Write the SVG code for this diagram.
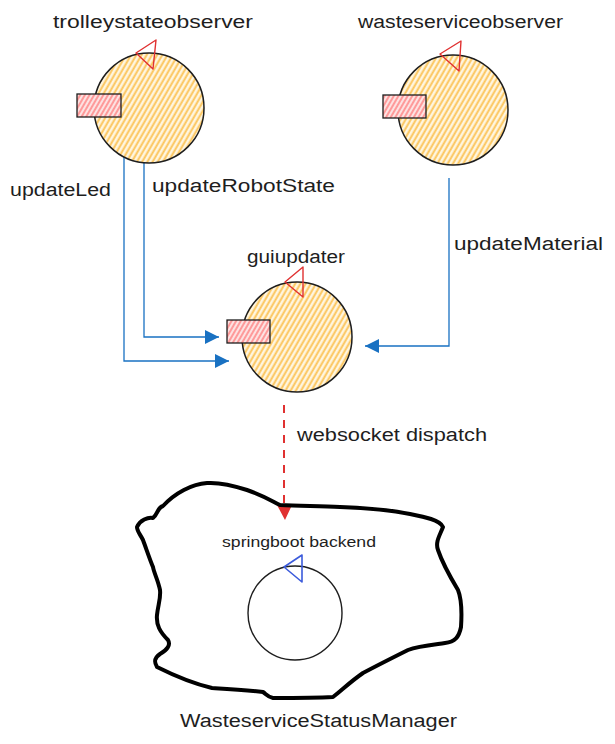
<svg xmlns="http://www.w3.org/2000/svg" width="615" height="744" viewBox="0 0 615 744">
<defs>
<style>
.lbl{font-family:"Liberation Sans","DejaVu Sans",sans-serif;fill:#1e1e1e}
.t18{font-size:18px}
.t14{font-size:14px}
.actor{stroke:#1e1e1e;stroke-width:1.5;fill:url(#hOrange)}
.inbox{stroke:#1e1e1e;stroke-width:1.3;fill:url(#hRed)}
.tri{fill:none;stroke:#e03131;stroke-width:1.4;stroke-linejoin:round}
.wire{fill:none;stroke:#1971c2;stroke-width:1.3}
</style>
<pattern id="hOrange" patternUnits="userSpaceOnUse" width="4.5" height="10" patternTransform="rotate(30)">
<rect width="4.5" height="10" fill="#fff6e0"/>
<line x1="1.5" y1="0" x2="1.5" y2="10" stroke="#fcc45a" stroke-width="1.9"/>
</pattern>
<pattern id="hRed" patternUnits="userSpaceOnUse" width="4" height="10" patternTransform="rotate(30)">
<rect width="4" height="10" fill="#fde2e2"/>
<line x1="1" y1="0" x2="1" y2="10" stroke="#ff7b7b" stroke-width="1.4"/>
</pattern>
<marker id="ab" viewBox="0 0 10 10" refX="10" refY="5" markerWidth="17" markerHeight="14" markerUnits="userSpaceOnUse" orient="auto">
<path d="M0,0 L10,5 L0,10 Z" fill="#1971c2"/>
</marker>
</defs>
<rect width="615" height="744" fill="#fff"/>

<g id="connectors">
<path class="wire" d="M124,155 L124,361 L229,361" marker-end="url(#ab)"/>
<path class="wire" d="M144,155 L144,337 L219,337" marker-end="url(#ab)"/>
<path class="wire" d="M449,178 L449,346 L365,346" marker-end="url(#ab)"/>
<path d="M284,405 L284,506" fill="none" stroke="#e03131" stroke-width="2" stroke-dasharray="8 7"/>
<polygon points="277,505 292,505 285,520" fill="#e03131"/>
<text class="lbl t18" x="10" y="196" textLength="101" lengthAdjust="spacingAndGlyphs">updateLed</text>
<text class="lbl t18" x="152" y="192" textLength="183" lengthAdjust="spacingAndGlyphs">updateRobotState</text>
<text class="lbl t18" x="454" y="250" textLength="149" lengthAdjust="spacingAndGlyphs">updateMaterial</text>
<text class="lbl t18" x="297" y="441" textLength="190" lengthAdjust="spacingAndGlyphs">websocket dispatch</text>
</g>

<g id="trolleystateobserver">
<text class="lbl t18" x="53" y="28" textLength="200" lengthAdjust="spacingAndGlyphs">trolleystateobserver</text>
<circle class="actor" cx="149" cy="108" r="55"/>
<rect class="inbox" x="77" y="94" width="44" height="23"/>
<polygon class="tri" points="136,53 156,40 153,69"/>
</g>

<g id="wasteserviceobserver">
<text class="lbl t18" x="358" y="28" textLength="205" lengthAdjust="spacingAndGlyphs">wasteserviceobserver</text>
<circle class="actor" cx="453" cy="110" r="55"/>
<rect class="inbox" x="383" y="95" width="43" height="23"/>
<polygon class="tri" points="440,54 461,41 459,71"/>
</g>

<g id="guiupdater">
<text class="lbl t18" x="247" y="263" textLength="98" lengthAdjust="spacingAndGlyphs">guiupdater</text>
<circle class="actor" cx="297" cy="337" r="55"/>
<rect class="inbox" x="227" y="320" width="43" height="23"/>
<polygon class="tri" points="285,282 303,267 303,297"/>
</g>

<g id="WasteserviceStatusManager">
<path d="M137,527 C140,520 148,517 153,518 C158,514 157,508 163,506 C175,493 192,484 207,483 C222,482 235,486 247,490 C262,495 270,500 280,505 C300,506 320,506 340,507 C365,508 390,510 410,514 C425,517 440,520 443,527 C440,535 435,542 438,550 C443,565 452,580 458,590 C462,600 462,612 461,627 C459,637 455,642 445,643 C430,645 418,646 408,650 C392,658 378,665 363,673 C350,682 342,690 333,697 C315,698 292,698 273,698 C268,697 266,694 263,692 C245,690 228,689 212,688 C195,684 175,676 157,667 C154,662 154,658 160,654 C167,650 171,645 168,640 C160,632 156,625 157,615 C158,605 161,598 160,590 C158,580 154,573 153,567 C150,560 146,548 143,540 C140,534 137,531 137,527 Z" fill="none" stroke="#000" stroke-width="4" stroke-linejoin="round"/>
<text class="lbl t14" x="222" y="547" textLength="154" lengthAdjust="spacingAndGlyphs">springboot backend</text>
<circle cx="295" cy="613" r="47" fill="none" stroke="#1e1e1e" stroke-width="1.4"/>
<polygon points="284,567 302,555 302,582" fill="none" stroke="#3b5bdb" stroke-width="1.6" stroke-linejoin="round"/>
<text class="lbl t18" x="180" y="727" textLength="277" lengthAdjust="spacingAndGlyphs">WasteserviceStatusManager</text>
</g>
</svg>
